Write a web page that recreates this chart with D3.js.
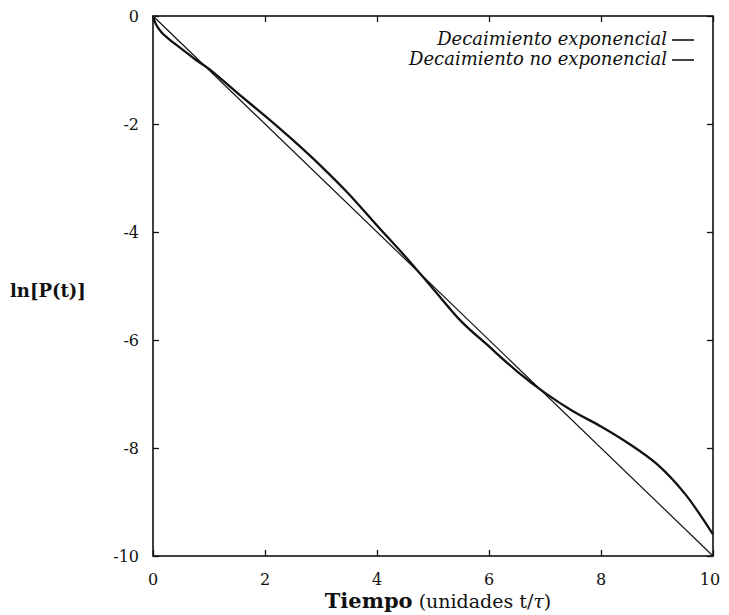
<!DOCTYPE html>
<html>
<head>
<meta charset="utf-8">
<script src="https://cdn.jsdelivr.net/npm/d3@7/dist/d3.min.js"></script>
<style>
  html, body { margin: 0; padding: 0; background: #fff; }
  svg text { font-family: "DejaVu Serif", "Liberation Serif", serif; fill: #111; }
</style>
</head>
<body>
<svg id="chart" width="729" height="615"></svg>
<script>
// Time axis (t / tau) and log-survival values
const xTicks = [0, 2, 4, 6, 8, 10];
const yTicks = [0, -2, -4, -6, -8, -10];

// Pure exponential decay: ln P = -t
const expT = [0, 10];
const expV = [0, -10];

// Non-exponential decay curve
const nonExpT = [0, 0.05, 0.15, 0.3, 0.5, 0.75, 1, 1.5, 2, 2.5, 3, 3.5, 4, 4.5, 5, 5.5, 6, 6.5, 7, 7.5, 8, 8.5, 9, 9.5, 10];
const nonExpV = [0, -0.15, -0.3, -0.44, -0.6, -0.8, -0.98, -1.42, -1.85, -2.3, -2.78, -3.3, -3.88, -4.45, -5.05, -5.65, -6.12, -6.58, -6.98, -7.32, -7.6, -7.92, -8.3, -8.85, -9.6];

const legendLabels = ["Decaimiento exponencial", "Decaimiento no exponencial"];

const svg = d3.select("#chart");
const m = { left: 153, right: 713, top: 16, bottom: 556 };

const x = d3.scaleLinear().domain([0, 10]).range([m.left, m.right]);
const y = d3.scaleLinear().domain([-10, 0]).range([m.bottom, m.top]);

const ink = "#111";

// Frame
svg.append("rect")
  .attr("x", m.left).attr("y", m.top)
  .attr("width", m.right - m.left).attr("height", m.bottom - m.top)
  .attr("fill", "none").attr("stroke", ink).attr("stroke-width", 1.6);

// Inward ticks on all four sides
const tickLen = 6;
const axB = d3.axisBottom(x).tickValues(xTicks).tickSize(-tickLen).tickFormat("");
const axT = d3.axisTop(x).tickValues(xTicks).tickSize(-tickLen).tickFormat("");
const axL = d3.axisLeft(y).tickValues(yTicks).tickSize(-tickLen).tickFormat("");
const axR = d3.axisRight(y).tickValues(yTicks).tickSize(-tickLen).tickFormat("");

[[axB, `translate(0,${m.bottom})`], [axT, `translate(0,${m.top})`],
 [axL, `translate(${m.left},0)`], [axR, `translate(${m.right},0)`]].forEach(([ax, tr]) => {
  const g = svg.append("g").attr("transform", tr).call(ax);
  g.select(".domain").remove();
  g.selectAll("line").attr("stroke", ink).attr("stroke-width", 1.3);
});

// Tick labels
svg.append("g").selectAll("text").data(xTicks).join("text")
  .attr("x", d => x(d) - (d === 10 ? 3 : 0))
  .attr("y", 585)
  .attr("text-anchor", "middle")
  .attr("font-size", 16)
  .text(d => d);

svg.append("g").selectAll("text").data(yTicks).join("text")
  .attr("x", 139)
  .attr("y", d => y(d) + 6)
  .attr("text-anchor", "end")
  .attr("font-size", 16)
  .text(d => d === 0 ? "0" : "-" + Math.abs(d));

// Axis titles
const xt = svg.append("text")
  .attr("x", 438).attr("y", 608)
  .attr("text-anchor", "middle")
  .attr("font-size", 21);
xt.append("tspan").attr("font-weight", "bold").text("Tiempo");
xt.append("tspan").attr("font-size", 19).text(" (unidades t/");
xt.append("tspan").attr("font-size", 19).attr("font-style", "italic").text("τ");
xt.append("tspan").attr("font-size", 19).text(")");

svg.append("text")
  .attr("x", 10).attr("y", 297)
  .attr("font-size", 18)
  .attr("font-weight", "bold")
  .text("ln[P(t)]");

// Curves
const lineGen = d3.line().x(d => x(d[0])).y(d => y(d[1]));

svg.append("path")
  .datum(d3.zip(expT, expV))
  .attr("d", lineGen)
  .attr("fill", "none").attr("stroke", ink).attr("stroke-width", 1.2);

svg.append("path")
  .datum(d3.zip(nonExpT, nonExpV))
  .attr("d", lineGen.curve(d3.curveCatmullRom.alpha(0.5)))
  .attr("fill", "none").attr("stroke", ink).attr("stroke-width", 2.3);

// Legend
const legend = svg.append("g");
legendLabels.forEach((lab, i) => {
  const ly = 45 + i * 20;
  legend.append("text")
    .attr("x", 667).attr("y", ly)
    .attr("text-anchor", "end")
    .attr("font-size", 18)
    .attr("font-style", "italic")
    .text(lab);
  legend.append("line")
    .attr("x1", 672).attr("x2", 694)
    .attr("y1", ly - 5).attr("y2", ly - 5)
    .attr("stroke", ink).attr("stroke-width", 1.6);
});
</script>
</body>
</html>
